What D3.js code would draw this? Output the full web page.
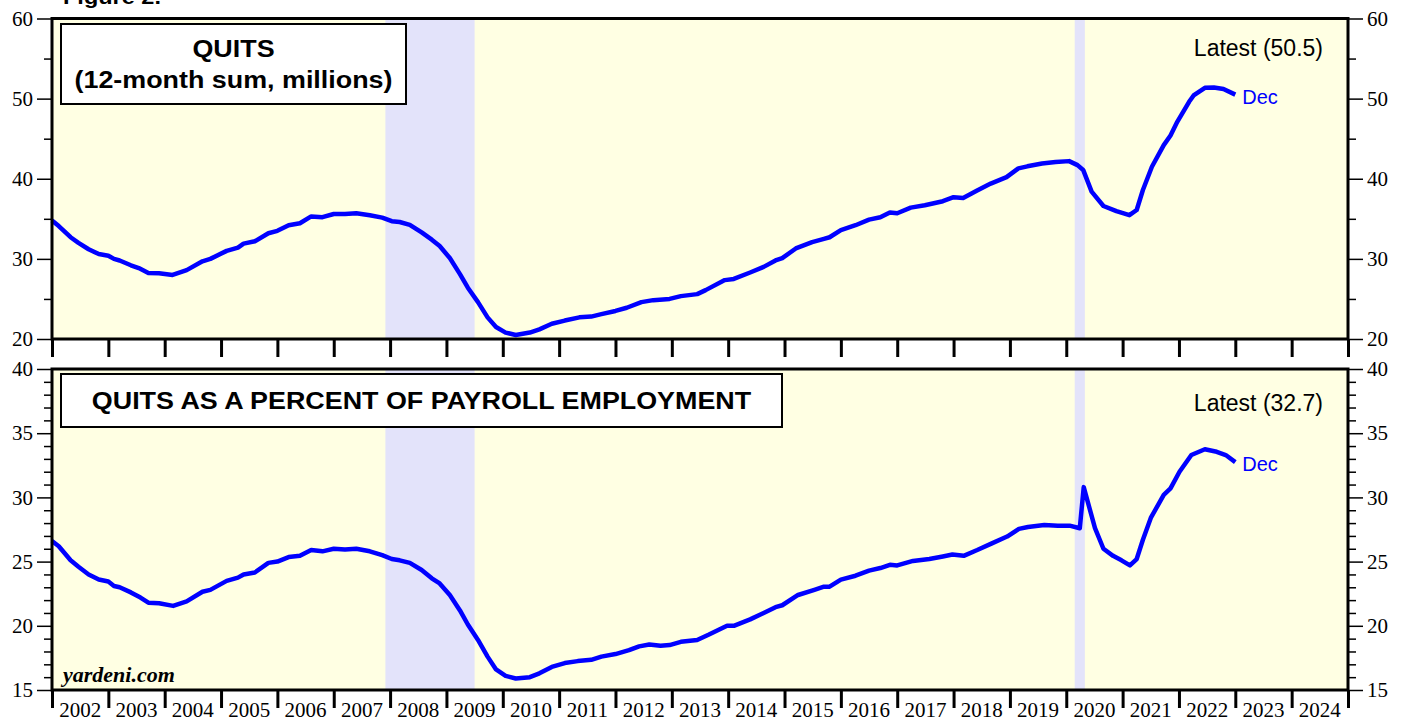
<!DOCTYPE html>
<html>
<head>
<meta charset="utf-8">
<script src="https://cdn.jsdelivr.net/npm/d3@7"></script>
<style>
  body { margin: 0; background: #fff; }
  svg { display: block; }
  .sans { font-family: "Liberation Sans", Arial, sans-serif; }
  .serif { font-family: "Liberation Serif", "Times New Roman", serif; }
</style>
</head>
<body>
<svg id="chart"></svg>
<script>
// quits, 12-month sum (millions) : [decimal year, value]
const quitsSum = [
  [2002.00,34.8],[2002.12,34.1],[2002.33,32.7],[2002.47,32.0],[2002.65,31.2],[2002.83,30.6],
  [2003.00,30.4],[2003.10,30.0],[2003.20,29.8],[2003.40,29.2],[2003.54,28.85],[2003.71,28.25],
  [2003.90,28.2],[2004.14,28.0],[2004.39,28.6],[2004.67,29.7],[2004.81,30.0],[2005.10,31.0],
  [2005.30,31.4],[2005.40,31.9],[2005.60,32.2],[2005.84,33.2],[2006.00,33.5],[2006.20,34.2],
  [2006.40,34.45],[2006.60,35.3],[2006.80,35.2],[2007.00,35.6],[2007.20,35.6],[2007.40,35.7],
  [2007.64,35.45],[2007.86,35.15],[2008.03,34.7],[2008.17,34.6],[2008.35,34.25],[2008.56,33.3],
  [2008.74,32.4],[2008.88,31.6],[2009.06,30.1],[2009.24,28.1],[2009.38,26.4],[2009.56,24.6],
  [2009.73,22.7],[2009.88,21.5],[2010.05,20.8],[2010.23,20.5],[2010.48,20.8],[2010.65,21.2],
  [2010.87,21.9],[2011.10,22.3],[2011.36,22.7],[2011.57,22.8],[2011.75,23.1],[2012.00,23.5],
  [2012.20,23.9],[2012.46,24.6],[2012.67,24.85],[2012.96,25.0],[2013.16,25.35],[2013.45,25.6],
  [2013.60,26.1],[2013.94,27.35],[2014.10,27.5],[2014.39,28.3],[2014.63,29.0],[2014.84,29.8],
  [2014.96,30.1],[2015.20,31.3],[2015.49,32.1],[2015.70,32.5],[2015.80,32.7],[2016.00,33.6],
  [2016.26,34.2],[2016.50,34.9],[2016.70,35.2],[2016.87,35.8],[2017.00,35.7],[2017.24,36.4],
  [2017.49,36.7],[2017.81,37.2],[2018.00,37.7],[2018.17,37.6],[2018.41,38.5],[2018.66,39.4],
  [2018.94,40.2],[2019.15,41.3],[2019.31,41.55],[2019.57,41.9],[2019.81,42.1],[2020.05,42.2],
  [2020.20,41.7],[2020.30,41.1],[2020.45,38.4],[2020.66,36.6],[2020.89,35.95],[2021.12,35.45],
  [2021.25,36.1],[2021.36,38.6],[2021.52,41.5],[2021.73,44.2],[2021.85,45.4],[2021.97,47.1],
  [2022.18,49.6],[2022.26,50.4],[2022.46,51.35],[2022.62,51.4],[2022.79,51.2],[2023.00,50.5]
];

// quits as a percent of payroll employment : [decimal year, value]
const quitsPct = [
  [2002.00,26.6],[2002.12,26.2],[2002.33,25.1],[2002.47,24.6],[2002.65,24.0],[2002.83,23.6],
  [2003.00,23.45],[2003.10,23.1],[2003.20,23.0],[2003.40,22.6],[2003.57,22.2],[2003.71,21.8],
  [2003.90,21.75],[2004.15,21.55],[2004.39,21.9],[2004.67,22.65],[2004.81,22.8],[2005.10,23.5],
  [2005.30,23.75],[2005.40,24.0],[2005.60,24.15],[2005.84,24.9],[2006.00,25.0],[2006.20,25.35],
  [2006.40,25.45],[2006.60,25.9],[2006.80,25.8],[2007.00,26.0],[2007.20,25.95],[2007.40,26.0],
  [2007.64,25.8],[2007.86,25.5],[2008.03,25.2],[2008.17,25.1],[2008.35,24.9],[2008.56,24.35],
  [2008.74,23.7],[2008.88,23.3],[2009.06,22.4],[2009.24,21.2],[2009.38,20.1],[2009.56,18.9],
  [2009.73,17.6],[2009.88,16.6],[2010.05,16.1],[2010.23,15.9],[2010.48,16.0],[2010.65,16.3],
  [2010.87,16.8],[2011.10,17.1],[2011.33,17.25],[2011.57,17.35],[2011.75,17.6],[2012.00,17.8],
  [2012.24,18.1],[2012.42,18.4],[2012.60,18.55],[2012.80,18.45],[2012.96,18.5],[2013.16,18.75],
  [2013.45,18.9],[2013.65,19.3],[2013.98,20.0],[2014.10,20.0],[2014.39,20.5],[2014.63,21.0],
  [2014.84,21.45],[2014.96,21.6],[2015.24,22.4],[2015.53,22.8],[2015.70,23.05],[2015.80,23.05],
  [2016.00,23.6],[2016.26,23.9],[2016.50,24.3],[2016.70,24.5],[2016.87,24.75],[2017.00,24.7],
  [2017.28,25.05],[2017.57,25.2],[2017.81,25.4],[2017.98,25.55],[2018.18,25.45],[2018.42,25.9],
  [2018.67,26.4],[2018.95,26.95],[2019.16,27.55],[2019.32,27.7],[2019.61,27.85],[2019.85,27.8],
  [2020.06,27.8],[2020.24,27.6],[2020.31,30.8],[2020.51,27.6],[2020.66,26.0],[2020.83,25.45],
  [2020.98,25.1],[2021.13,24.7],[2021.25,25.2],[2021.36,26.7],[2021.50,28.4],[2021.73,30.2],
  [2021.85,30.7],[2022.01,32.0],[2022.22,33.3],[2022.46,33.75],[2022.67,33.55],[2022.83,33.3],
  [2023.00,32.75]
];

const recessions = [[2007.917, 2009.5], [2020.15, 2020.33]];
const years = d3.range(2002, 2025);        // year labels
const yearTicks = d3.range(2002, 2026);    // tick marks at year boundaries

const W = 1407, H = 721;
const svg = d3.select("#chart").attr("width", W).attr("height", H);

const x = d3.scaleLinear().domain([2002, 2025]).range([52, 1348]);

svg.append("text")
  .attr("class", "sans")
  .attr("transform", "translate(63,4) scale(1.12,1)")
  .style("font-size", "21px").style("font-weight", "bold")
  .text("Figure 2.");

function drawPanel(p) {
  const y = d3.scaleLinear().domain(p.domain).range([p.bottom, p.top]);
  const g = svg.append("g");

  g.append("rect")
    .attr("x", x.range()[0]).attr("y", p.top)
    .attr("width", x.range()[1] - x.range()[0]).attr("height", p.bottom - p.top)
    .attr("fill", "#ffffe3");

  g.selectAll(".rec")
    .data(recessions)
    .enter().append("rect")
    .attr("class", "rec")
    .attr("x", d => x(d[0])).attr("y", p.top)
    .attr("width", d => x(d[1]) - x(d[0])).attr("height", p.bottom - p.top)
    .attr("fill", "#e3e3fa");

  // legend box, title font is a bit wider than Arial in the original
  g.append("rect")
    .attr("x", p.box[0]).attr("y", p.box[1]).attr("width", p.box[2]).attr("height", p.box[3])
    .attr("fill", "#fff").attr("stroke", "#000").attr("stroke-width", 2);
  g.selectAll(".ttl")
    .data(p.title)
    .enter().append("text")
    .attr("class", "sans")
    .attr("transform", (d, i) => `translate(${p.box[0] + p.box[2] / 2},${p.titleY + i * 31}) scale(1.12,1)`)
    .attr("text-anchor", "middle")
    .style("font-size", "24px").style("font-weight", "bold")
    .text(d => d);

  g.append("text")
    .attr("class", "sans")
    .attr("x", 1323).attr("y", p.latestY)
    .attr("text-anchor", "end")
    .style("font-size", "23px")
    .text(p.latest);

  const line = d3.line().x(d => x(d[0])).y(d => y(d[1]));
  g.append("path")
    .datum(p.data)
    .attr("d", line)
    .attr("fill", "none")
    .attr("stroke", "#0000ff")
    .attr("stroke-width", 4.5)
    .attr("stroke-linejoin", "round");

  const last = p.data[p.data.length - 1];
  g.append("text")
    .attr("class", "sans")
    .attr("x", x(last[0]) + 7).attr("y", y(last[1]) + 9)
    .attr("fill", "#0000ff")
    .style("font-size", "20px")
    .text("Dec");

  // y axes, minor then major
  [[d3.axisLeft, x.range()[0]], [d3.axisRight, x.range()[1]]].forEach(([axisFn, xpos]) => {
    const minor = g.append("g").attr("transform", `translate(${xpos},0)`)
      .call(axisFn(y).tickValues(p.minor).tickSize(8).tickFormat(""));
    const major = g.append("g").attr("transform", `translate(${xpos},0)`)
      .call(axisFn(y).tickValues(p.major).tickSize(15).tickPadding(4).tickFormat(d3.format("d")));
    [minor, major].forEach(a => {
      a.select(".domain").remove();
      a.selectAll("line").attr("stroke", "#000").attr("stroke-width", 1.5);
      a.selectAll("text").attr("class", "serif").style("font-size", "21px").attr("fill", "#000");
    });
  });

  const xa = g.append("g").attr("transform", `translate(0,${p.bottom})`)
    .call(d3.axisBottom(x).tickValues(yearTicks).tickSize(18).tickFormat(""));
  xa.select(".domain").remove();
  xa.selectAll("line").attr("stroke", "#000").attr("stroke-width", 3);

  g.append("rect")
    .attr("x", x.range()[0]).attr("y", p.top)
    .attr("width", x.range()[1] - x.range()[0]).attr("height", p.bottom - p.top)
    .attr("fill", "none").attr("stroke", "#000").attr("stroke-width", 3);

  return y;
}

drawPanel({
  top: 18.5, bottom: 339, domain: [20, 60],
  major: [20, 30, 40, 50, 60], minor: [25, 35, 45, 55],
  data: quitsSum,
  title: ["QUITS", "(12-month sum, millions)"], titleY: 57,
  box: [61, 24, 345, 80],
  latest: "Latest (50.5)", latestY: 56
});

drawPanel({
  top: 369, bottom: 690, domain: [15, 40],
  major: [15, 20, 25, 30, 35, 40], minor: d3.range(16, 40).filter(v => v % 5 !== 0),
  data: quitsPct,
  title: ["QUITS AS A PERCENT OF PAYROLL EMPLOYMENT"], titleY: 409,
  box: [61, 374, 721, 53],
  latest: "Latest (32.7)", latestY: 411
});

svg.selectAll(".yr")
  .data(years)
  .enter().append("text")
  .attr("class", "serif")
  .attr("x", d => x(d + 0.5)).attr("y", 717)
  .attr("text-anchor", "middle")
  .style("font-size", "21px")
  .text(d => d);

svg.append("text")
  .attr("class", "serif")
  .attr("x", 63).attr("y", 682)
  .style("font-size", "22px").style("font-weight", "bold").style("font-style", "italic")
  .text("yardeni.com");
</script>
</body>
</html>
